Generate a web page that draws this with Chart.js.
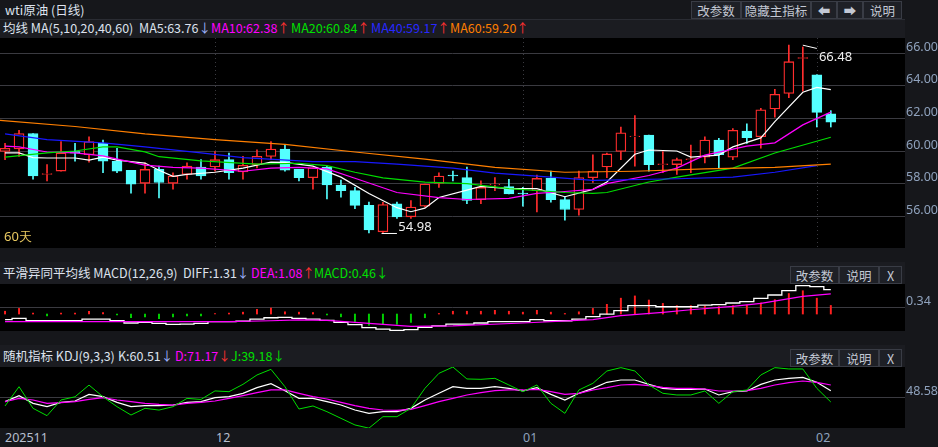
<!DOCTYPE html>
<html><head><meta charset="utf-8">
<script src="https://cdn.jsdelivr.net/npm/chart.js@4/dist/chart.umd.min.js"></script>
<style>
body{margin:0;width:938px;height:447px;background:#16171b;position:relative;overflow:hidden;font-family:"Noto Sans CJK SC","Noto Sans",sans-serif;}
.row{position:absolute;left:0;background:#1b1c21;}
.t{position:absolute;white-space:nowrap;font-size:12.5px;line-height:18px;color:#dde2ee;}
.btn{position:absolute;height:18px;border:1px solid #393c45;background:#1e2026;color:#c3c8d4;font-size:12.5px;line-height:18px;text-align:center;box-sizing:border-box;}
canvas{position:absolute;left:0;}
.ax{position:absolute;font-size:12.5px;color:#8fa2bd;font-family:"Noto Sans",sans-serif;}
</style></head><body>
<div class="row" style="top:0;height:19px;width:938px;background:#16171b"></div>
<div class="row" style="top:19px;height:19px;width:905px;border-top:1px solid #2a2c33"></div>
<div class="t" style="left:5px;top:1px">wti原油 (日线)</div>
<div class="btn" style="left:691px;top:1px;width:50px">改参数</div>
<div class="btn" style="left:741px;top:1px;width:70px">隐藏主指标</div>
<div class="btn" style="left:811px;top:1px;width:26px">⬅</div>
<div class="btn" style="left:837px;top:1px;width:26px">➡</div>
<div class="btn" style="left:863px;top:1px;width:39px">说明</div>
<div class="t" style="left:3px;top:19px">均线 MA(5,10,20,40,60)</div>
<div class="t" style="left:139px;top:19px">MA5:63.76<span style="color:#9fb4ff">↓</span></div>
<div class="t" style="left:211px;top:19px;color:#ff00ff">MA10:62.38<span style="color:#ff3030">↑</span></div>
<div class="t" style="left:291px;top:19px;color:#00e000">MA20:60.84<span style="color:#ff3030">↑</span></div>
<div class="t" style="left:371px;top:19px;color:#2828ff">MA40:59.17<span style="color:#ff3030">↑</span></div>
<div class="t" style="left:450px;top:19px;color:#ff7f00">MA60:59.20<span style="color:#ff3030">↑</span></div>

<div class="row" style="top:262px;height:22px;width:905px"></div>
<div class="t" style="left:3px;top:264px">平滑异同平均线 MACD(12,26,9)</div>
<div class="t" style="left:183px;top:264px">DIFF:1.31<span style="color:#9fb4ff">↓</span></div>
<div class="t" style="left:251px;top:264px;color:#ff00ff">DEA:1.08<span style="color:#ff3030">↑</span></div>
<div class="t" style="left:314px;top:264px;color:#00e000">MACD:0.46<span>↓</span></div>
<div class="btn" style="left:790px;top:266px;width:49px">改参数</div>
<div class="btn" style="left:839px;top:266px;width:40px">说明</div>
<div class="btn" style="left:879px;top:266px;width:23px">X</div>

<div class="row" style="top:345px;height:22px;width:905px"></div>
<div class="t" style="left:3px;top:347px">随机指标 KDJ(9,3,3)</div>
<div class="t" style="left:118px;top:347px">K:60.51<span style="color:#9fb4ff">↓</span></div>
<div class="t" style="left:175px;top:347px;color:#ff00ff">D:71.17<span style="color:#ff3030">↓</span></div>
<div class="t" style="left:231px;top:347px;color:#00e000">J:39.18↓</div>
<div class="btn" style="left:790px;top:349px;width:49px">改参数</div>
<div class="btn" style="left:839px;top:349px;width:40px">说明</div>
<div class="btn" style="left:879px;top:349px;width:23px">X</div>

<div class="ax" style="left:5px;top:429px;color:#b7bfcf">202511</div>
<div class="ax" style="left:216px;top:429px;color:#b7bfcf">12</div>
<div class="ax" style="left:523px;top:429px">01</div>
<div class="ax" style="left:816px;top:429px">02</div>

<canvas id="c1" style="top:33px" width="938" height="220"></canvas>
<canvas id="c2" style="top:279px" width="938" height="57"></canvas>
<canvas id="c3" style="top:362px" width="938" height="71"></canvas>
<script>
const openP=[59.97,60.12,61.07,58.57,58.77,59.97,59.77,60.47,59.37,58.82,58.02,58.87,58.02,58.57,59.02,59.02,59.47,58.72,59.17,59.67,60.12,58.87,58.37,59.02,57.92,57.57,56.67,55.05,56.77,55.97,56.62,58.02,58.52,58.37,57.02,57.92,57.82,57.42,57.57,58.32,57.02,56.42,58.37,59.02,59.97,60.87,60.97,59.17,59.17,59.47,59.62,60.67,59.62,61.22,60.87,62.57,63.52,65.67,64.67,62.27];
const highP=[60.47,61.27,61.07,59.17,60.57,60.47,60.87,60.67,60.17,58.82,59.27,59.07,58.67,59.27,59.47,59.97,59.87,59.67,60.07,60.57,60.37,58.87,58.97,59.07,58.22,57.77,56.87,56.85,56.87,56.97,57.97,58.67,58.77,59.02,58.17,58.37,58.27,57.77,58.52,58.77,57.17,58.77,59.77,59.87,61.47,62.17,60.97,59.97,59.57,60.37,60.87,60.77,61.37,61.67,62.62,63.77,66.48,66.37,64.67,62.47];
const lowP=[59.47,59.67,58.27,58.17,58.77,59.37,59.32,58.67,58.67,57.42,57.42,57.12,57.67,58.27,58.27,58.77,58.27,58.27,58.97,59.47,58.77,58.17,57.67,57.07,57.17,56.47,54.98,55.0,55.87,55.87,56.57,57.77,58.17,56.77,56.77,57.57,57.37,56.62,56.27,56.87,55.77,56.07,58.07,58.37,59.47,59.07,58.77,58.67,58.57,58.67,59.27,58.97,59.47,60.47,60.17,62.07,63.27,63.67,61.47,61.47];
const closeP=[60.17,61.07,58.47,58.62,59.87,59.87,60.57,59.37,58.77,57.97,58.87,58.07,58.47,59.07,58.47,59.47,58.67,59.12,59.67,60.12,58.82,58.37,58.97,57.92,57.57,56.67,55.17,56.72,55.97,56.57,57.97,58.47,58.47,56.97,57.77,57.97,57.37,57.37,58.32,57.02,56.42,58.37,58.77,59.82,61.12,60.92,59.17,59.22,59.47,59.52,60.67,59.77,61.27,60.82,62.52,63.47,65.47,65.72,62.37,61.77];
// moving-average lines: [candle index, value]
const ma5=[[0,59.88],[1,59.88],[2,59.6],[3,59.57],[5,59.57],[6,59.44],[7,59.63],[8,59.44],[10,59.26],[11,58.82],[12,58.45],[13,58.57],[15,58.7],[17,58.95],[19,59.32],[20,59.3],[22,59.07],[24,58.4],[26,57.4],[28,56.53],[29,56.28],[30,56.5],[31,57.15],[33,57.6],[34,57.83],[36,57.7],[38,57.7],[40,57.2],[42,57.65],[43,58.1],[45,59.8],[46,60.06],[48,60.0],[49,59.63],[51,59.75],[52,60.25],[54,60.8],[55,61.8],[57,63.6],[58,63.9],[59,63.76]];
const ma10=[[0,60.3],[1,60.25],[3,59.94],[5,59.88],[7,59.7],[9,59.32],[10,59.13],[12,59.0],[14,58.95],[17,58.76],[19,58.95],[21,59.0],[23,58.9],[25,58.33],[28,57.46],[31,57.15],[33,57.03],[36,57.1],[38,57.4],[40,57.52],[42,57.65],[43,58.0],[46,58.5],[48,58.95],[50,59.75],[53,60.3],[55,60.5],[57,61.6],[59,62.38]];
const ma20=[[0,59.63],[3,59.88],[5,60.0],[7,60.25],[8,60.25],[10,59.95],[11,59.65],[14,59.4],[18,59.2],[21,59.25],[23,59.1],[25,58.7],[27,58.35],[30,58.1],[33,58.0],[36,57.7],[40,57.46],[42,57.4],[43,57.46],[46,58.1],[48,58.4],[52,58.95],[55,59.88],[59,60.84]];
const ma40=[[0,61.05],[3,60.7],[7,60.5],[10,60.25],[14,59.88],[17,59.6],[22,59.35],[25,59.35],[28,59.2],[32,58.95],[35,58.65],[39,58.4],[42,58.2],[48,58.3],[52,58.4],[55,58.7],[58,59.1]];
const ma60=[[-0.36,61.87],[5,61.5],[10,61.05],[15,60.7],[20,60.4],[25,59.94],[30,59.5],[35,59.0],[40,58.7],[45,58.76],[50,58.9],[55,59.0],[59,59.2]];
const macdHist=[0.15,0.3,0.05,-0.1,0.05,0.05,0.15,0.08,-0.05,-0.2,-0.15,-0.25,-0.15,-0.1,-0.1,0.03,0.05,0.1,0.25,0.32,0.12,0.1,0.08,-0.05,-0.15,-0.4,-0.6,-0.55,-0.55,-0.45,-0.2,0.03,0.15,0.15,0.15,0.2,0.15,0.1,0.2,0.1,0.03,0.12,0.3,0.52,0.85,0.97,0.75,0.57,0.45,0.45,0.42,0.4,0.45,0.48,0.6,0.77,1.1,1.25,0.85,0.46];
const diff=[-0.30,-0.23,-0.36,-0.36,-0.36,-0.36,-0.27,-0.27,-0.36,-0.48,-0.45,-0.50,-0.56,-0.54,-0.50,-0.41,-0.41,-0.38,-0.27,-0.20,-0.18,-0.23,-0.27,-0.34,-0.45,-0.57,-0.73,-0.81,-0.88,-0.84,-0.72,-0.63,-0.54,-0.54,-0.48,-0.41,-0.41,-0.41,-0.30,-0.36,-0.36,-0.27,-0.14,0,0.18,0.45,0.45,0.39,0.39,0.39,0.48,0.50,0.59,0.66,0.84,1.02,1.25,1.52,1.47,1.31];
const dea=[[0,-0.41],[8,-0.41],[16,-0.41],[19,-0.36],[21,-0.31],[23,-0.34],[26,-0.50],[29,-0.66],[32,-0.63],[37,-0.48],[42,-0.30],[44,-0.09],[47,0.09],[49,0.23],[52,0.41],[54,0.57],[57,0.95],[59,1.08]];
const kVal=[39.8,51.1,36.7,30.4,38.6,41.1,53.6,49.2,38.6,30.4,32.3,32.3,33.5,38.6,39.8,47.3,49.2,55.5,66.1,73.7,60.5,46.1,46.1,39.8,33.5,24.1,17.9,21,21,27.3,43,55.5,68,64.9,64.9,68,64.9,59.9,66.1,53.6,43,55.5,64.9,76.2,80.6,80.6,72.4,64.9,63,63,63.6,52.4,58.6,59.9,72.4,80.6,83.7,85.6,76.2,60.51];
const dVal=[39.8,46.1,43,36.7,38,39.8,44.2,47.3,43,39.8,36.7,34.8,33.5,36.7,38.6,41.1,46.1,51.1,56.7,61.8,61.8,55.5,49.2,44.8,38.6,32.3,27.3,24.1,23.5,25.4,32.3,39.8,46.1,52.4,56.7,60.5,61.8,61.8,63,58.6,53.6,55.5,61.8,66.1,71.2,72.4,69.9,66.8,64.9,64.9,63.6,59.9,59.9,60.5,64.9,71.2,75.5,78.7,76.2,71.17];
const jVal=[31.7,68,27.3,13.5,43,49,71,49,30.4,14.7,27.3,24,30.4,46,44,60,58.6,72.4,90,100.6,68,26,31.7,21,8.5,-4,-10,11.6,11.6,27.3,64.9,93.1,105,82.5,81.8,83.7,71.2,58.6,71.2,36.7,17.9,61.8,74.3,97.5,103.8,97.5,71.2,55.5,52.4,52.4,59.9,36.7,58.6,61.8,90,103.8,101.3,101.3,64.9,39.18];
const mainTicks=[56,58,60,62,64,66];

const idx=closeP.map((_,i)=>i);
const UP='#ff2d2d', DN='#54ffff';
const XMIN=-0.36, XMAX=64.3;
function xScale(){return {type:'linear',min:XMIN,max:XMAX,display:false,offset:false,bounds:'ticks',grid:{offset:false}};}
function yAxis(min,max,ticks){
  return {position:'right',min,max,afterFit(s){s.width=33;},
    afterBuildTicks(s){s.ticks=ticks.map(v=>({value:v}));},
    border:{display:false},
    grid:{color:'#3a3a40',borderDash:[1,3],drawTicks:false},
    ticks:{color:'#8fa2bd',font:{size:12.5,family:'Noto Sans'},padding:1,labelOffset:-6,callback:v=>v.toFixed(2)}};
}
// fixes the plot rectangle so each panel matches its frame exactly
function fixArea(top,bottom){return {id:'fix',afterLayout(c){const a=c.chartArea;a.top=top;a.bottom=bottom;a.height=bottom-top;c.scales.y.top=top;c.scales.y.bottom=bottom;c.scales.y.height=bottom-top;c.scales.y.configure();}};}
const bg={id:'bg',beforeDraw(c){const a=c.chartArea,x=c.ctx;x.save();x.fillStyle='#000';x.fillRect(a.left,a.top,a.right-a.left,a.bottom-a.top);x.restore();}};
function lineDs(pts,color){return {type:'line',data:pts.map(p=>({x:p[0],y:p[1]})),borderColor:color,borderWidth:1.2,pointRadius:0,tension:0,order:0};}
function base(){return {responsive:false,animation:false,devicePixelRatio:1,layout:{padding:0},plugins:{legend:{display:false},tooltip:{enabled:false}}};}
Chart.defaults.font.family='Noto Sans';

const upI=idx.filter(i=>closeP[i]>=openP[i]), dnI=idx.filter(i=>closeP[i]<openP[i]);
const divider={id:'div',beforeDatasetsDraw(c){const x=c.scales.x,a=c.chartArea,g=c.ctx;g.save();g.strokeStyle='#3a3a40';g.setLineDash([1,3]);[15,37,58].forEach(i=>{const px=Math.round(x.getPixelForValue(i))+0.5;g.beginPath();g.moveTo(px,a.top);g.lineTo(px,a.bottom);g.stroke();});g.restore();}};
const marks={id:'marks',afterDatasetsDraw(c){const x=c.scales.x,y=c.scales.y,g=c.ctx;g.save();
  g.strokeStyle='#fff';g.lineWidth=1;
  g.beginPath();g.moveTo(x.getPixelForValue(26.9),y.getPixelForValue(54.98)+0.5);g.lineTo(x.getPixelForValue(28),y.getPixelForValue(54.98)+0.5);g.stroke();
  g.beginPath();g.moveTo(x.getPixelForValue(57),y.getPixelForValue(66.48));g.lineTo(x.getPixelForValue(58),y.getPixelForValue(66.28));g.stroke();
  g.fillStyle='#f0f0f0';g.font='13px Noto Sans';g.textBaseline='middle';
  g.fillText('54.98',x.getPixelForValue(28.1),y.getPixelForValue(55.3));
  g.fillText('66.48',x.getPixelForValue(58.15),y.getPixelForValue(65.72));
  g.fillStyle='#e8c860';g.fillText('60天',4,204);
  g.restore();}};
new Chart(document.getElementById('c1'),{type:'bar',
  data:{datasets:[
    {data:upI.map(i=>({x:i,y:[lowP[i],highP[i]]})),backgroundColor:UP,barThickness:1,grouped:false,order:3},
    {data:dnI.map(i=>({x:i,y:[lowP[i],highP[i]]})),backgroundColor:DN,barThickness:1,grouped:false,order:3},
    {data:upI.map(i=>({x:i,y:[openP[i],closeP[i]]})),backgroundColor:'#000',borderColor:UP,borderWidth:1.3,borderSkipped:false,barThickness:10,grouped:false,order:2},
    {data:dnI.map(i=>({x:i,y:[openP[i],closeP[i]]})),backgroundColor:DN,borderColor:DN,borderWidth:1,borderSkipped:false,barThickness:10,grouped:false,order:2},
    lineDs(ma60,'#ff7f00'),lineDs(ma40,'#1818ff'),lineDs(ma20,'#00dd00'),lineDs(ma10,'#ff00ff'),lineDs(ma5,'#ffffff')
  ]},
  options:Object.assign(base(),{scales:{x:xScale(),y:yAxis(54.06,66.92,mainTicks)}}),
  plugins:[fixArea(5,215),bg,divider,marks]});

new Chart(document.getElementById('c2'),{type:'bar',
  data:{datasets:[
    {data:idx.map(i=>({x:i,y:[0,macdHist[i]]})),backgroundColor:idx.map(i=>macdHist[i]>=0?'#ff2020':'#00d000'),barThickness:1.3,grouped:false,order:2},
    lineDs(dea,'#ff00ff'),
    {type:'line',data:idx.map(i=>({x:i,y:diff[i]})),borderColor:'#fff',borderWidth:1.3,pointRadius:0,stepped:'middle',order:0}
  ]},
  options:Object.assign(base(),{scales:{x:xScale(),y:yAxis(-0.91,1.61,[0.34])}}),
  plugins:[fixArea(5,52),bg]});

new Chart(document.getElementById('c3'),{type:'line',
  data:{datasets:[
    {data:idx.map(i=>({x:i,y:jVal[i]})),borderColor:'#00dd00',borderWidth:1,pointRadius:0},
    {data:idx.map(i=>({x:i,y:dVal[i]})),borderColor:'#ff00ff',borderWidth:1.2,pointRadius:0},
    {data:idx.map(i=>({x:i,y:kVal[i]})),borderColor:'#ffffff',borderWidth:1.2,pointRadius:0}
  ]},
  options:Object.assign(base(),{scales:{x:xScale(),y:yAxis(-9.7,105,[48.58])}}),
  plugins:[fixArea(5,66),bg]});
</script></body></html>
